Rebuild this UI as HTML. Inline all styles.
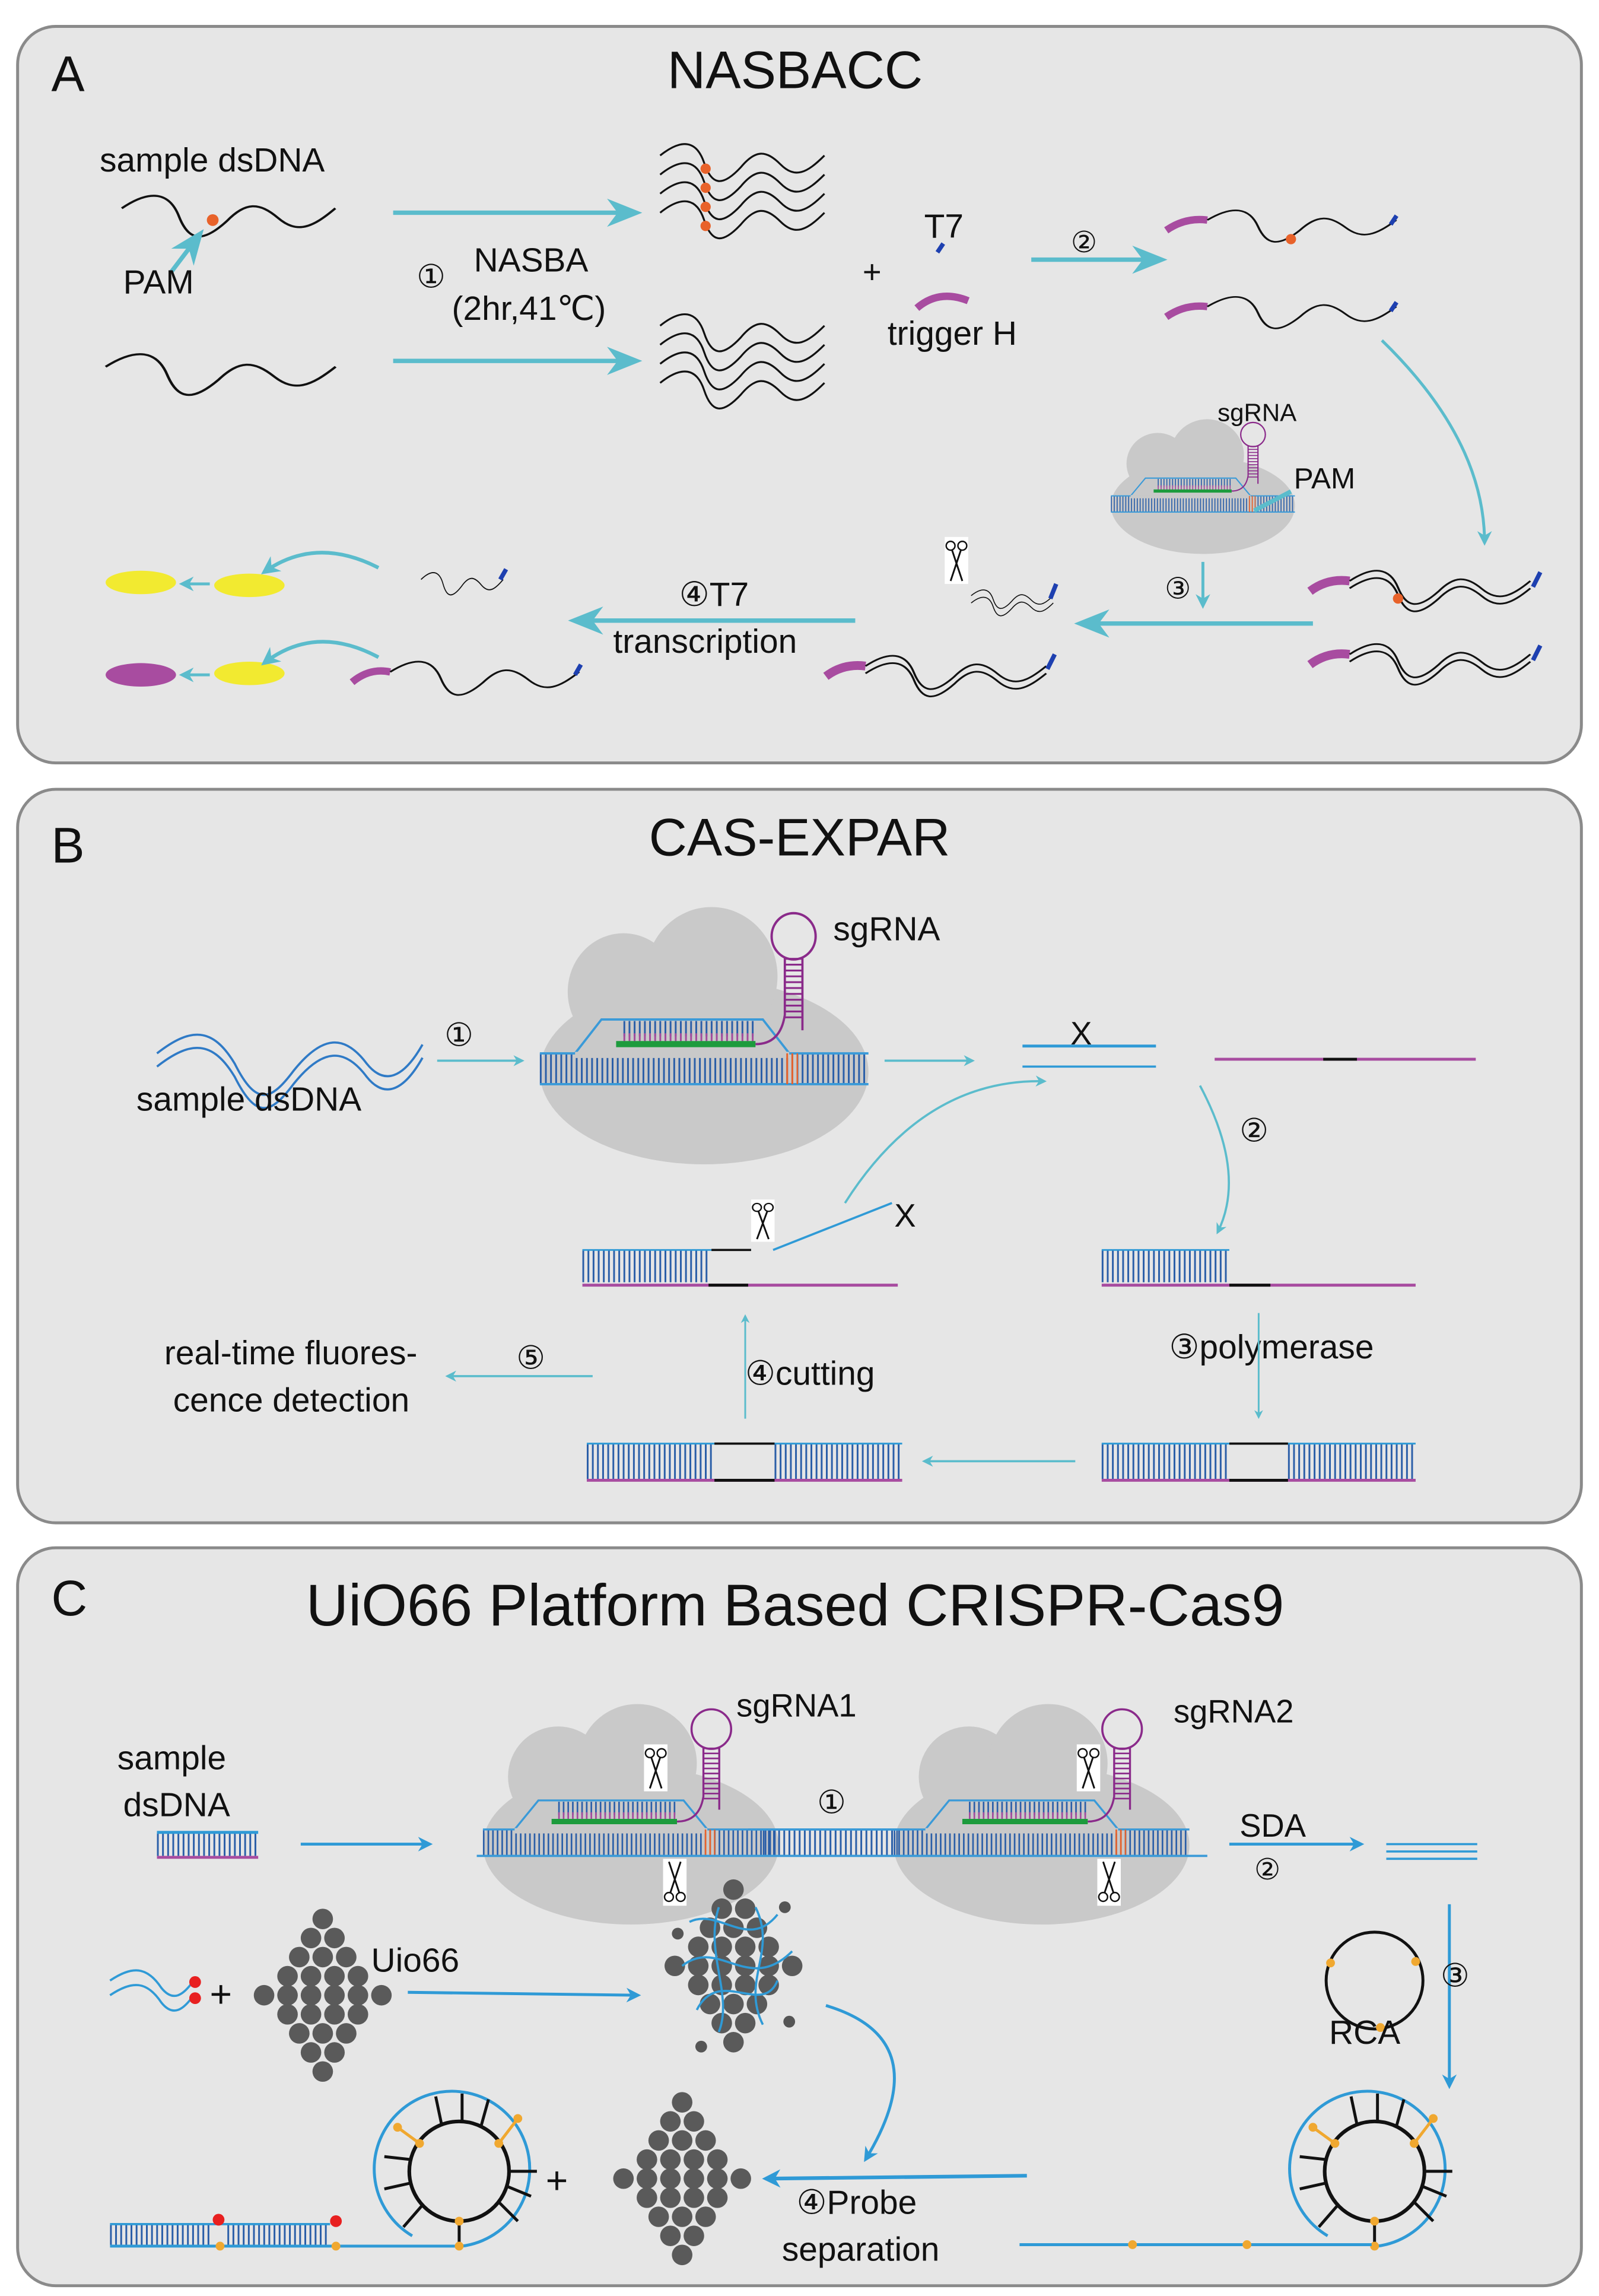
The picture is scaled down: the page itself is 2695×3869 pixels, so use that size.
<!DOCTYPE html>
<html><head><meta charset="utf-8"><style>
html,body{margin:0;padding:0;background:#fff}
svg{display:block}
text{font-family:"Liberation Sans","DejaVu Sans",sans-serif;fill:#111}
</style></head><body>
<svg width="2695" height="3869" viewBox="0 0 1090 1565" preserveAspectRatio="none" xmlns="http://www.w3.org/2000/svg">
<defs>
<marker id="ah" viewBox="0 0 10 10" refX="8" refY="5" markerWidth="5" markerHeight="5" orient="auto"><path d="M0,0 L10,5 L0,10 L3,5z" fill="#5bbccc"/></marker>
<marker id="ahs" viewBox="0 0 10 10" refX="8" refY="5" markerWidth="8" markerHeight="8" orient="auto"><path d="M0,1 L10,5 L0,9 L3,5z" fill="#5bbccc"/></marker>
<marker id="ahb" viewBox="0 0 10 10" refX="8" refY="5" markerWidth="5" markerHeight="5" orient="auto"><path d="M0,0 L10,5 L0,10 L3,5z" fill="#2f9ad6"/></marker>
<g id="cas">
 <ellipse cx="0" cy="12" rx="112" ry="60" fill="#c9c9c9"/>
 <circle cx="-55" cy="-40" r="38" fill="#c9c9c9"/>
 <circle cx="5" cy="-50" r="45" fill="#c9c9c9"/>
 <line x1="-112" y1="10" x2="112" y2="10" stroke="#2a5ea8" stroke-width="20" stroke-dasharray="1.2 2.3"/>
 <path d="M-112,0 H-88 L-70,-22 H40 L58,0 H112" fill="none" stroke="#3a9ad8" stroke-width="1.5"/>
 <line x1="-112" y1="20" x2="112" y2="20" stroke="#3a9ad8" stroke-width="1.5"/>
 <rect x="-88" y="-1" width="146" height="4" fill="#c9c9c9"/>
 <line x1="-55" y1="-16" x2="35" y2="-16" stroke="#2a5ea8" stroke-width="10" stroke-dasharray="1.2 2.3"/>
 <line x1="-55" y1="-10" x2="35" y2="-10" stroke="#a24a9c" stroke-width="6" stroke-dasharray="1.2 2.3"/>
 <line x1="-60" y1="-6" x2="35" y2="-6" stroke="#1d9b3d" stroke-width="4"/>
 <path d="M35,-6 Q52,-6 55,-25 V-62 M67,-62 V-15" fill="none" stroke="#8a2a8a" stroke-width="1.5"/>
 <line x1="61" y1="-62" x2="61" y2="-22" stroke="#8a2a8a" stroke-width="12" stroke-dasharray="1.2 2.6"/>
 <circle cx="61" cy="-76" r="15" fill="none" stroke="#8a2a8a" stroke-width="1.6"/>
 <line x1="56" y1="10" x2="64" y2="10" stroke="#e8622a" stroke-width="20" stroke-dasharray="1.2 2.3"/>
</g>
<g id="scis">
 <rect x="-8" y="-16" width="16" height="32" fill="#fff"/>
 <circle cx="-4" cy="-10" r="3" fill="none" stroke="#111" stroke-width="1"/>
 <circle cx="4" cy="-10" r="3" fill="none" stroke="#111" stroke-width="1"/>
 <path d="M-3,-7 L4,14 M3,-7 L-4,14" stroke="#111" stroke-width="1.2"/>
</g>
<g id="clu" fill="#5a5a5a">
 <circle cx="0" cy="-52" r="7"/>
 <circle cx="-8" cy="-39" r="7"/><circle cx="8" cy="-39" r="7"/>
 <circle cx="-16" cy="-26" r="7"/><circle cx="0" cy="-26" r="7"/><circle cx="16" cy="-26" r="7"/>
 <circle cx="-24" cy="-13" r="7"/><circle cx="-8" cy="-13" r="7"/><circle cx="8" cy="-13" r="7"/><circle cx="24" cy="-13" r="7"/>
 <circle cx="-40" cy="0" r="7"/><circle cx="-24" cy="0" r="7"/><circle cx="-8" cy="0" r="7"/><circle cx="8" cy="0" r="7"/><circle cx="24" cy="0" r="7"/><circle cx="40" cy="0" r="7"/>
 <circle cx="-24" cy="13" r="7"/><circle cx="-8" cy="13" r="7"/><circle cx="8" cy="13" r="7"/><circle cx="24" cy="13" r="7"/>
 <circle cx="-16" cy="26" r="7"/><circle cx="0" cy="26" r="7"/><circle cx="16" cy="26" r="7"/>
 <circle cx="-8" cy="39" r="7"/><circle cx="8" cy="39" r="7"/>
 <circle cx="0" cy="52" r="7"/>
</g>
<path id="w" d="M0,0 C15,-12 25,-10 30,5 C35,20 42,22 55,8 C65,-4 72,-4 82,6 C92,16 100,12 112,0" fill="none" stroke="#111" stroke-width="1.3"/>
<g id="ring">
 <circle cx="0" cy="0" r="34" fill="none" stroke="#111" stroke-width="2.5"/>
 <path d="M-32,44 A53,53 0 1 1 2,51" fill="none" stroke="#2f9ad6" stroke-width="2"/>
 <g stroke="#111" stroke-width="2">
  <line x1="-12" y1="-32" x2="-16" y2="-51"/><line x1="2" y1="-34" x2="2" y2="-53"/><line x1="15" y1="-31" x2="20" y2="-49"/>
  <line x1="32" y1="10" x2="49" y2="17"/><line x1="27" y1="21" x2="40" y2="34"/><line x1="-33" y1="-8" x2="-51" y2="-10"/>
  <line x1="-33" y1="8" x2="-51" y2="12"/><line x1="-25" y1="23" x2="-38" y2="38"/><line x1="34" y1="0" x2="53" y2="0"/>
  <line x1="0" y1="34" x2="0" y2="51"/>
 </g>
 <path d="M-27,-19 L-42,-30 M27,-19 L40,-36" stroke="#f0a830" stroke-width="2"/>
 <g fill="#f0a830"><circle cx="-27" cy="-19" r="3"/><circle cx="27" cy="-19" r="3"/><circle cx="0" cy="34" r="3"/><circle cx="0" cy="51" r="3"/><circle cx="-42" cy="-30" r="3"/><circle cx="40" cy="-36" r="3"/></g>
</g>
</defs>

<rect x="12" y="18" width="1066" height="502" rx="26" fill="#e6e6e6" stroke="#8a8a8a" stroke-width="2"/>
<rect x="12" y="538" width="1066" height="500" rx="26" fill="#e6e6e6" stroke="#8a8a8a" stroke-width="2"/>
<rect x="12" y="1055" width="1066" height="503" rx="26" fill="#e6e6e6" stroke="#8a8a8a" stroke-width="2"/>

<!-- ===== A ===== -->
<text x="35" y="62" font-size="34">A</text>
<text x="542" y="60" font-size="36" text-anchor="middle">NASBACC</text>
<text x="68" y="117" font-size="23">sample dsDNA</text>
<use href="#w" transform="translate(83,142) scale(1.3,1.1)"/>
<circle cx="145" cy="150" r="4" fill="#e8622a"/>
<line x1="117" y1="185" x2="136" y2="160" stroke="#5bbccc" stroke-width="3" marker-end="url(#ahs)"/>
<text x="84" y="200" font-size="23">PAM</text>
<use href="#w" transform="translate(72,250) scale(1.4,1.1)"/>
<line x1="268" y1="145" x2="433" y2="145" stroke="#5bbccc" stroke-width="3" marker-end="url(#ahs)"/>
<line x1="268" y1="246" x2="433" y2="246" stroke="#5bbccc" stroke-width="3" marker-end="url(#ahs)"/>
<text x="284" y="196" font-size="22">①</text>
<text x="323" y="185" font-size="23">NASBA</text>
<text x="308" y="218" font-size="23">(2hr,41℃)</text>
<g>
<use href="#w" transform="translate(450,106)"/><use href="#w" transform="translate(450,119)"/><use href="#w" transform="translate(450,132)"/><use href="#w" transform="translate(450,145)"/>
<circle cx="481" cy="115" r="3.5" fill="#e8622a"/><circle cx="481" cy="128" r="3.5" fill="#e8622a"/><circle cx="481" cy="141" r="3.5" fill="#e8622a"/><circle cx="481" cy="154" r="3.5" fill="#e8622a"/>
<use href="#w" transform="translate(450,222)"/><use href="#w" transform="translate(450,235)"/><use href="#w" transform="translate(450,248)"/><use href="#w" transform="translate(450,261)"/>
</g>
<text x="588" y="193" font-size="22">+</text>
<text x="630" y="162" font-size="23">T7</text>
<line x1="639" y1="172" x2="643" y2="166" stroke="#1e40b0" stroke-width="3"/>
<path d="M625,210 Q640,197 660,205" fill="none" stroke="#a84ca0" stroke-width="5"/>
<text x="605" y="235" font-size="23">trigger H</text>
<text x="730" y="172" font-size="20">②</text>
<line x1="703" y1="177" x2="791" y2="177" stroke="#5bbccc" stroke-width="3" marker-end="url(#ahs)"/>
<path d="M795,157 Q808,148 823,150" fill="none" stroke="#a84ca0" stroke-width="5"/>
<use href="#w" transform="translate(823,150) scale(1.15,0.85)"/>
<circle cx="880" cy="163" r="3.5" fill="#e8622a"/>
<line x1="948" y1="153" x2="952" y2="147" stroke="#1e40b0" stroke-width="3"/>
<path d="M795,216 Q808,207 823,209" fill="none" stroke="#a84ca0" stroke-width="5"/>
<use href="#w" transform="translate(823,209) scale(1.15,0.85)"/>
<line x1="948" y1="212" x2="952" y2="206" stroke="#1e40b0" stroke-width="3"/>
<path d="M942,232 Q1012,300 1012,370" fill="none" stroke="#5bbccc" stroke-width="2" marker-end="url(#ah)"/>
<use href="#cas" transform="translate(820,338) scale(0.56,0.55)"/>
<text x="830" y="287" font-size="17">sgRNA</text>
<text x="882" y="333" font-size="20">PAM</text>
<line x1="880" y1="335" x2="855" y2="348" stroke="#5bbccc" stroke-width="3"/>
<text x="794" y="408" font-size="20">③</text>
<line x1="820" y1="383" x2="820" y2="413" stroke="#5bbccc" stroke-width="2" marker-end="url(#ah)"/>
<line x1="895" y1="425" x2="737" y2="425" stroke="#5bbccc" stroke-width="3" marker-end="url(#ahs)"/>
<g>
<path d="M893,403 Q905,394 920,396" fill="none" stroke="#a84ca0" stroke-width="6"/>
<use href="#w" transform="translate(920,396) scale(1.1,0.9)"/><use href="#w" transform="translate(920,401) scale(1.1,0.9)"/>
<circle cx="953" cy="408" r="3.5" fill="#e8622a"/>
<line x1="1045" y1="400" x2="1050" y2="390" stroke="#1e40b0" stroke-width="3"/>
<path d="M893,453 Q905,444 920,446" fill="none" stroke="#a84ca0" stroke-width="6"/>
<use href="#w" transform="translate(920,446) scale(1.1,0.9)"/><use href="#w" transform="translate(920,451) scale(1.1,0.9)"/>
<line x1="1045" y1="450" x2="1050" y2="440" stroke="#1e40b0" stroke-width="3"/>
</g>
<use href="#scis" transform="translate(652,382)"/>
<use href="#w" transform="translate(662,406) scale(0.5,0.5)"/><use href="#w" transform="translate(662,411) scale(0.5,0.5)"/>
<line x1="716" y1="408" x2="720" y2="398" stroke="#1e40b0" stroke-width="3"/>
<path d="M563,461 Q575,452 590,454" fill="none" stroke="#a84ca0" stroke-width="6"/>
<use href="#w" transform="translate(590,454) scale(1.1,0.9)"/><use href="#w" transform="translate(590,459) scale(1.1,0.9)"/>
<line x1="714" y1="456" x2="719" y2="446" stroke="#1e40b0" stroke-width="3"/>
<text x="463" y="413" font-size="23">④T7</text>
<text x="418" y="445" font-size="23">transcription</text>
<line x1="583" y1="423" x2="392" y2="423" stroke="#5bbccc" stroke-width="3" marker-end="url(#ahs)"/>
<ellipse cx="96" cy="397" rx="24" ry="8" fill="#f2ea30"/>
<ellipse cx="170" cy="399" rx="24" ry="8" fill="#f2ea30"/>
<line x1="143" y1="398" x2="124" y2="398" stroke="#5bbccc" stroke-width="2" marker-end="url(#ah)"/>
<path d="M258,387 Q215,365 180,390" fill="none" stroke="#5bbccc" stroke-width="2.5" marker-end="url(#ah)"/>
<use href="#w" transform="translate(287,395) scale(0.5,0.6)"/>
<line x1="341" y1="395" x2="345" y2="388" stroke="#1e40b0" stroke-width="3"/>
<ellipse cx="96" cy="460" rx="24" ry="8" fill="#a84ca0"/>
<ellipse cx="170" cy="459" rx="24" ry="8" fill="#f2ea30"/>
<line x1="143" y1="460" x2="124" y2="460" stroke="#5bbccc" stroke-width="2" marker-end="url(#ah)"/>
<path d="M258,448 Q215,425 180,452" fill="none" stroke="#5bbccc" stroke-width="2.5" marker-end="url(#ah)"/>
<path d="M240,465 Q252,455 266,458" fill="none" stroke="#a84ca0" stroke-width="5"/>
<use href="#w" transform="translate(266,458) scale(1.15,0.9)"/>
<line x1="392" y1="460" x2="396" y2="453" stroke="#1e40b0" stroke-width="3"/>

<!-- ===== B ===== -->
<text x="35" y="588" font-size="34">B</text>
<text x="545" y="583" font-size="36" text-anchor="middle">CAS-EXPAR</text>
<path d="M107,718 C130,700 145,700 160,725 C175,755 185,750 200,730 C220,705 235,705 250,725 C262,740 275,735 288,712" fill="none" stroke="#2f7ac6" stroke-width="1.5"/>
<path d="M107,727 C130,709 145,709 160,734 C175,764 185,759 200,739 C220,714 235,714 250,734 C262,749 275,744 288,721" fill="none" stroke="#2f7ac6" stroke-width="1.5"/>
<text x="93" y="757" font-size="23">sample dsDNA</text>
<text x="303" y="713" font-size="22">①</text>
<line x1="298" y1="723" x2="356" y2="723" stroke="#5bbccc" stroke-width="1.5" marker-end="url(#ah)"/>
<use href="#cas" transform="translate(480,718) scale(1.0,1.05)"/>
<text x="568" y="641" font-size="23">sgRNA</text>
<line x1="603" y1="723" x2="663" y2="723" stroke="#5bbccc" stroke-width="1.5" marker-end="url(#ah)"/>
<text x="737" y="712" font-size="22" text-anchor="middle">X</text>
<line x1="697" y1="713" x2="788" y2="713" stroke="#2f9ad6" stroke-width="2"/>
<line x1="697" y1="727" x2="788" y2="727" stroke="#2f9ad6" stroke-width="1.5"/>
<line x1="828" y1="722" x2="1006" y2="722" stroke="#a84ca0" stroke-width="2"/>
<line x1="902" y1="722" x2="925" y2="722" stroke="#111" stroke-width="2"/>
<path d="M818,740 Q850,800 830,840" fill="none" stroke="#5bbccc" stroke-width="1.5" marker-end="url(#ah)"/>
<text x="845" y="778" font-size="22">②</text>
<path d="M576,820 Q630,735 712,737" fill="none" stroke="#5bbccc" stroke-width="1.5" marker-end="url(#ah)"/>
<use href="#scis" transform="translate(520,832) scale(1,0.9)"/>
<text x="617" y="836" font-size="22" text-anchor="middle">X</text>
<line x1="527" y1="852" x2="608" y2="820" stroke="#2f9ad6" stroke-width="1.5"/>
<line x1="397" y1="863" x2="483" y2="863" stroke="#2a5ea8" stroke-width="22" stroke-dasharray="1.2 2.3"/>
<line x1="397" y1="852" x2="512" y2="852" stroke="#2f9ad6" stroke-width="1.2"/>
<line x1="485" y1="852" x2="512" y2="852" stroke="#111" stroke-width="1.5"/>
<line x1="397" y1="876" x2="612" y2="876" stroke="#a84ca0" stroke-width="2"/>
<line x1="483" y1="876" x2="510" y2="876" stroke="#111" stroke-width="2"/>
<line x1="751" y1="863" x2="838" y2="863" stroke="#2a5ea8" stroke-width="22" stroke-dasharray="1.2 2.3"/>
<line x1="751" y1="852" x2="838" y2="852" stroke="#2f9ad6" stroke-width="1.2"/>
<line x1="751" y1="876" x2="965" y2="876" stroke="#a84ca0" stroke-width="2"/>
<line x1="838" y1="876" x2="866" y2="876" stroke="#111" stroke-width="2"/>
<text x="797" y="926" font-size="23">③polymerase</text>
<line x1="858" y1="895" x2="858" y2="966" stroke="#5bbccc" stroke-width="1.2" marker-end="url(#ah)"/>
<g>
<line x1="400" y1="996" x2="487" y2="996" stroke="#2a5ea8" stroke-width="24" stroke-dasharray="1.2 2.3"/>
<line x1="528" y1="996" x2="615" y2="996" stroke="#2a5ea8" stroke-width="24" stroke-dasharray="1.2 2.3"/>
<line x1="400" y1="984" x2="615" y2="984" stroke="#2f9ad6" stroke-width="1.2"/>
<line x1="487" y1="984" x2="528" y2="984" stroke="#111" stroke-width="1.5"/>
<line x1="400" y1="1009" x2="615" y2="1009" stroke="#a84ca0" stroke-width="2"/>
<line x1="487" y1="1009" x2="528" y2="1009" stroke="#111" stroke-width="2"/>
<line x1="751" y1="996" x2="838" y2="996" stroke="#2a5ea8" stroke-width="24" stroke-dasharray="1.2 2.3"/>
<line x1="878" y1="996" x2="965" y2="996" stroke="#2a5ea8" stroke-width="24" stroke-dasharray="1.2 2.3"/>
<line x1="751" y1="984" x2="965" y2="984" stroke="#2f9ad6" stroke-width="1.2"/>
<line x1="838" y1="984" x2="878" y2="984" stroke="#111" stroke-width="1.5"/>
<line x1="751" y1="1009" x2="965" y2="1009" stroke="#a84ca0" stroke-width="2"/>
<line x1="838" y1="1009" x2="878" y2="1009" stroke="#111" stroke-width="2"/>
</g>
<line x1="733" y1="996" x2="630" y2="996" stroke="#5bbccc" stroke-width="1.5" marker-end="url(#ah)"/>
<text x="508" y="944" font-size="23">④cutting</text>
<line x1="508" y1="967" x2="508" y2="897" stroke="#5bbccc" stroke-width="1.2" marker-end="url(#ah)"/>
<text x="112" y="930" font-size="23">real-time fluores-</text>
<text x="118" y="962" font-size="23">cence detection</text>
<text x="352" y="933" font-size="22">⑤</text>
<line x1="404" y1="938" x2="305" y2="938" stroke="#5bbccc" stroke-width="1.5" marker-end="url(#ah)"/>

<!-- ===== C ===== -->
<text x="35" y="1101" font-size="34">C</text>
<text x="542" y="1108" font-size="40" text-anchor="middle">UiO66 Platform Based CRISPR-Cas9</text>
<text x="80" y="1206" font-size="23">sample</text>
<text x="84" y="1238" font-size="23">dsDNA</text>
<line x1="107" y1="1257" x2="176" y2="1257" stroke="#2a5ea8" stroke-width="16" stroke-dasharray="1.2 2.3"/>
<line x1="107" y1="1249" x2="176" y2="1249" stroke="#2f9ad6" stroke-width="2"/>
<line x1="107" y1="1266" x2="176" y2="1266" stroke="#a84ca0" stroke-width="2"/>
<line x1="205" y1="1257" x2="293" y2="1257" stroke="#2f9ad6" stroke-width="2" marker-end="url(#ahb)"/>
<use href="#cas" transform="translate(430,1247) scale(0.9,0.9)"/>
<use href="#cas" transform="translate(710,1247) scale(0.9,0.9)"/>
<line x1="520" y1="1256" x2="612" y2="1256" stroke="#2a5ea8" stroke-width="18" stroke-dasharray="1.2 2.3"/>
<line x1="510" y1="1247" x2="620" y2="1247" stroke="#3a9ad8" stroke-width="1.5"/>
<line x1="325" y1="1265" x2="823" y2="1265" stroke="#3a9ad8" stroke-width="1.5"/>
<text x="502" y="1170" font-size="22">sgRNA1</text>
<text x="800" y="1174" font-size="22">sgRNA2</text>
<text x="557" y="1236" font-size="22">①</text>
<use href="#scis" transform="translate(447,1205)"/>
<use href="#scis" transform="translate(460,1283) rotate(180)"/>
<use href="#scis" transform="translate(742,1205)"/>
<use href="#scis" transform="translate(756,1283) rotate(180)"/>
<text x="845" y="1252" font-size="22">SDA</text>
<text x="855" y="1281" font-size="20">②</text>
<line x1="838" y1="1257" x2="928" y2="1257" stroke="#2f9ad6" stroke-width="2" marker-end="url(#ahb)"/>
<line x1="945" y1="1257" x2="1007" y2="1257" stroke="#2f9ad6" stroke-width="1.5"/>
<line x1="945" y1="1262" x2="1007" y2="1262" stroke="#2f9ad6" stroke-width="1.5"/>
<line x1="945" y1="1267" x2="1007" y2="1267" stroke="#2f9ad6" stroke-width="1.5"/>
<line x1="988" y1="1298" x2="988" y2="1422" stroke="#2f9ad6" stroke-width="2" marker-end="url(#ahb)"/>
<text x="982" y="1354" font-size="22">③</text>
<circle cx="937" cy="1350" r="33" fill="none" stroke="#111" stroke-width="2"/>
<circle cx="907" cy="1338" r="3" fill="#f0a830"/><circle cx="965" cy="1337" r="3" fill="#f0a830"/><circle cx="941" cy="1382" r="3" fill="#f0a830"/>
<text x="906" y="1393" font-size="23">RCA</text>
<use href="#ring" transform="translate(937,1480)"/>
<line x1="695" y1="1530" x2="935" y2="1530" stroke="#2f9ad6" stroke-width="2"/>
<circle cx="772" cy="1530" r="3" fill="#f0a830"/><circle cx="850" cy="1530" r="3" fill="#f0a830"/>
<line x1="700" y1="1483" x2="522" y2="1485" stroke="#2f9ad6" stroke-width="2.5" marker-end="url(#ahb)"/>
<text x="543" y="1509" font-size="23">④Probe</text>
<text x="533" y="1541" font-size="23">separation</text>
<path d="M563,1367 Q640,1390 590,1472" fill="none" stroke="#2f9ad6" stroke-width="2" marker-end="url(#ahb)"/>
<use href="#clu" transform="translate(220,1360)"/>
<text x="253" y="1344" font-size="23">Uio66</text>
<path d="M75,1350 C90,1340 100,1340 110,1355 C118,1365 125,1360 132,1350" fill="none" stroke="#2f9ad6" stroke-width="1.5"/>
<path d="M75,1360 C90,1350 100,1350 110,1365 C118,1375 125,1370 132,1360" fill="none" stroke="#2f9ad6" stroke-width="1.5"/>
<circle cx="133" cy="1351" r="4" fill="#e82020"/><circle cx="133" cy="1362" r="4" fill="#e82020"/>
<text x="143" y="1368" font-size="26">+</text>
<line x1="278" y1="1358" x2="435" y2="1360" stroke="#2f9ad6" stroke-width="2" marker-end="url(#ahb)"/>
<use href="#clu" transform="translate(500,1340)"/>
<g fill="none" stroke="#2f9ad6" stroke-width="1.5">
<path d="M470,1310 C490,1300 510,1330 530,1305 M465,1340 C490,1320 510,1360 540,1330 M475,1370 C490,1340 520,1375 530,1350 M490,1300 C480,1330 500,1360 490,1385 M515,1300 C530,1330 505,1350 520,1380"/>
</g>
<g fill="#555"><circle cx="462" cy="1318" r="4"/><circle cx="535" cy="1300" r="4"/><circle cx="538" cy="1378" r="4"/><circle cx="478" cy="1395" r="4"/></g>
<use href="#clu" transform="translate(465,1485)"/>
<text x="372" y="1495" font-size="26">+</text>
<line x1="75" y1="1523" x2="145" y2="1523" stroke="#2a5ea8" stroke-width="14" stroke-dasharray="1.2 2.3"/>
<line x1="155" y1="1523" x2="225" y2="1523" stroke="#2a5ea8" stroke-width="14" stroke-dasharray="1.2 2.3"/>
<line x1="75" y1="1516" x2="225" y2="1516" stroke="#2f9ad6" stroke-width="1.5"/>
<line x1="75" y1="1531" x2="315" y2="1531" stroke="#2f9ad6" stroke-width="2"/>
<circle cx="150" cy="1531" r="3" fill="#f0a830"/><circle cx="229" cy="1531" r="3" fill="#f0a830"/>
<circle cx="149" cy="1513" r="4" fill="#e82020"/><circle cx="229" cy="1514" r="4" fill="#e82020"/>
<use href="#ring" transform="translate(313,1480)"/>
</svg>
</body></html>
